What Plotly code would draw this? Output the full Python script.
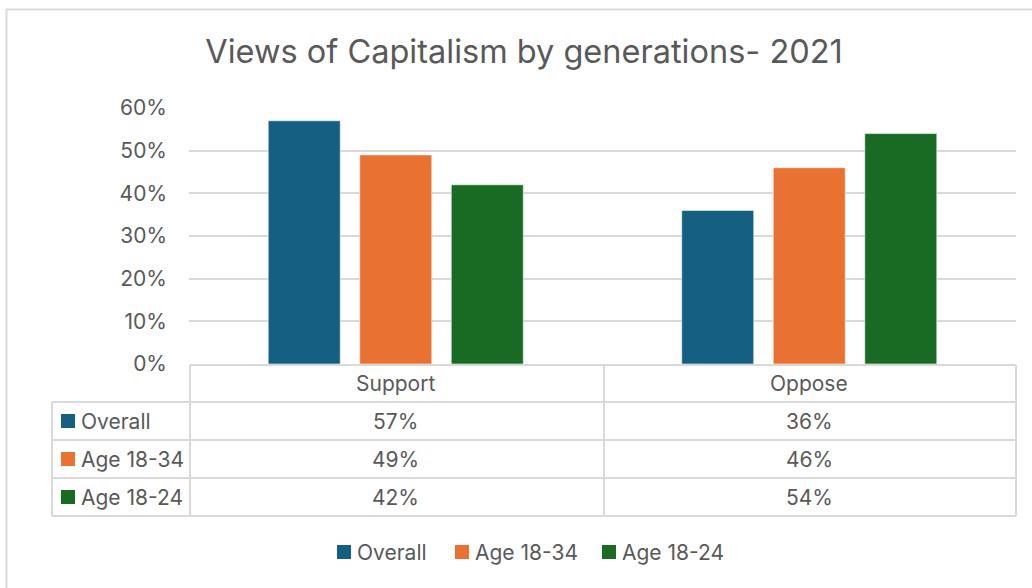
import plotly.graph_objects as go

# Survey data: share supporting / opposing capitalism, 2021
categories = ["Support", "Oppose"]
series_names = ["Overall", "Age 18-34", "Age 18-24"]
overall = [57, 36]
age_18_34 = [49, 46]
age_18_24 = [42, 54]
y_ticks = [0, 10, 20, 30, 40, 50, 60]

series_values = [overall, age_18_34, age_18_24]
colors = ["#156082", "#E97132", "#196B24"]

FONT = "Inter"
TEXT = "#595959"
GRID = "#D9D9D9"
FS = 21

W, H = 1032, 588
L, R, T, B = 189, 16, 108, 224
PW, PH = W - L - R, H - T - B


def px_x(px):
    """Figure pixel column -> paper x."""
    return (px - L) / PW


def px_y(py):
    """Figure pixel row -> paper y."""
    return (H - B - py) / PH


fig = go.Figure()
for name, vals, col in zip(series_names, series_values, colors):
    fig.add_trace(go.Bar(
        x=categories, y=vals, name=name,
        marker=dict(color=col, line=dict(color="rgba(255,255,255,0.55)", width=1)),
        showlegend=False, hoverinfo="skip",
    ))

shapes = []
annotations = []


def hline(x0, x1, y, color=GRID, width=2):
    shapes.append(dict(type="line", xref="paper", yref="paper",
                       x0=px_x(x0), x1=px_x(x1), y0=px_y(y), y1=px_y(y),
                       line=dict(color=color, width=width), layer="above"))


def vline(x, y0, y1, color=GRID, width=2):
    shapes.append(dict(type="line", xref="paper", yref="paper",
                       x0=px_x(x), x1=px_x(x), y0=px_y(y0), y1=px_y(y1),
                       line=dict(color=color, width=width), layer="above"))


def square(x0, yc, color, size=14):
    shapes.append(dict(type="rect", xref="paper", yref="paper",
                       x0=px_x(x0), x1=px_x(x0 + size),
                       y0=px_y(yc + size / 2), y1=px_y(yc - size / 2),
                       fillcolor=color, line=dict(width=0), layer="above"))


# chart-area border (top and left edges visible)
hline(6, W + 5, 9.5, width=2)
vline(6.5, 9, H + 5, width=2)

# data table beneath the bars
tab_left, col_split, tab_right = 52, 190, 1016
row_edges = [365, 402, 440, 478, 516]
hline(col_split, tab_right, row_edges[0])
for y in row_edges[1:]:
    hline(tab_left, tab_right, y)
vline(tab_left, row_edges[1], row_edges[-1])
vline(col_split, row_edges[0], row_edges[-1])
vline((col_split + tab_right) / 2 + 1, row_edges[0], row_edges[-1])
vline(tab_right, row_edges[0], row_edges[-1])

row_mid = [(a + b) / 2 for a, b in zip(row_edges[:-1], row_edges[1:])]

for cat in categories:
    annotations.append(dict(x=cat, xref="x", y=px_y(row_mid[0]), yref="paper",
                            text=cat, showarrow=False, xanchor="center", yanchor="middle",
                            font=dict(family=FONT, size=FS, color=TEXT)))

for i, (name, vals, col) in enumerate(zip(series_names, series_values, colors)):
    ym = row_mid[i + 1]
    square(61, ym, col)
    annotations.append(dict(x=px_x(79), xref="paper", y=px_y(ym), yref="paper",
                            text=name, showarrow=False, xanchor="left", yanchor="middle",
                            font=dict(family=FONT, size=FS, color=TEXT)))
    for cat, v in zip(categories, vals):
        annotations.append(dict(x=cat, xref="x", y=px_y(ym), yref="paper",
                                text=f"{v}%", showarrow=False, xanchor="center",
                                yanchor="middle",
                                font=dict(family=FONT, size=FS, color=TEXT)))

# legend along the bottom
legend_x = [337, 455, 602]
legend_y = 552
for x0, name, col in zip(legend_x, series_names, colors):
    square(x0, legend_y, col)
    annotations.append(dict(x=px_x(x0 + 18), xref="paper", y=px_y(legend_y), yref="paper",
                            text=name, showarrow=False, xanchor="left", yanchor="middle",
                            font=dict(family=FONT, size=FS, color=TEXT)))

fig.update_layout(
    width=W, height=H,
    margin=dict(l=L, r=R, t=T, b=B, autoexpand=False),
    paper_bgcolor="white", plot_bgcolor="white",
    title=dict(text="Views of Capitalism by generations- 2021",
               x=524 / W, xref="container", xanchor="center",
               y=1 - 52 / H, yref="container", yanchor="middle",
               font=dict(family=FONT, size=32.5, color=TEXT)),
    barmode="group", bargap=0.336, bargroupgap=0.213,
    xaxis=dict(showticklabels=False, showgrid=False, zeroline=False, showline=False,
               ticks=""),
    yaxis=dict(range=[0, 60], tickvals=y_ticks, ticktext=[f"{t}%" for t in y_ticks],
               showgrid=True, gridcolor=GRID, gridwidth=1.5, zeroline=False,
               showline=False, ticks="", ticklabelstandoff=21,
               tickfont=dict(family=FONT, size=FS, color=TEXT)),
    shapes=shapes, annotations=annotations,
    showlegend=False,
)

fig.write_html("out.html")
